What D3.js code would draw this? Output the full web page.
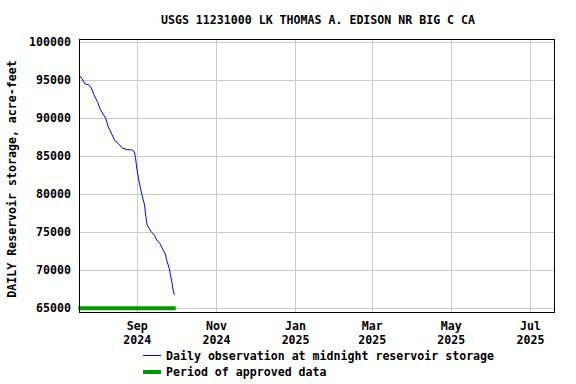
<!DOCTYPE html>
<html>
<head>
<meta charset="utf-8">
<script src="https://cdn.jsdelivr.net/npm/d3@7"></script>
<style>
  body { margin: 0; background: #fff; }
  svg text { font-family: 'DejaVu Sans Mono', monospace; font-weight: bold; font-size: 11.6px; fill: #000; }
</style>
</head>
<body>
<figure style="margin:0"></figure>
<script>
const width = 576
const height = 384

// daily storage readings, acre-feet
const obsDates = [
  '2024-07-19', '2024-07-21', '2024-07-23', '2024-07-26', '2024-07-28', '2024-07-30',
  '2024-08-02', '2024-08-04', '2024-08-08', '2024-08-10', '2024-08-13', '2024-08-15',
  '2024-08-18', '2024-08-21', '2024-08-25', '2024-08-28', '2024-08-30', '2024-08-31',
  '2024-09-01', '2024-09-03', '2024-09-05', '2024-09-07', '2024-09-08', '2024-09-09',
  '2024-09-12', '2024-09-15', '2024-09-16', '2024-09-19', '2024-09-21', '2024-09-23',
  '2024-09-24', '2024-09-26', '2024-09-27', '2024-09-28', '2024-09-29', '2024-09-30'
]
const storage = [
  95570, 95130, 94510, 94380, 93950, 93070,
  92050, 91090, 90000, 88890, 87800, 87050,
  86620, 86050, 85830, 85830, 85600, 84850,
  83420, 81450, 79900, 78590, 77050, 75960,
  75080, 74510, 74080, 73460, 72760, 72140,
  71350, 70260, 69380, 68500, 67400, 66750
]
const approved = ['2024-07-18', '2024-10-01']

const yTicks = [65000, 70000, 75000, 80000, 85000, 90000, 95000, 100000]
const xTicks = ['2024-09-01', '2024-11-01', '2025-01-01', '2025-03-01', '2025-05-01', '2025-07-01']
const xTickLabels = [['Sep', '2024'], ['Nov', '2024'], ['Jan', '2025'], ['Mar', '2025'], ['May', '2025'], ['Jul', '2025']]

const title = 'USGS 11231000 LK THOMAS A. EDISON NR BIG C CA'
const yLabel = 'DAILY Reservoir storage, acre-feet'
const legendItems = ['Daily observation at midnight reservoir storage', 'Period of approved data']

const parse = d3.utcParse('%Y-%m-%d')
const plotLeft = 79
const plotRight = 554
const plotTop = 39
const plotBottom = 312

const x = d3.scaleUtc()
  .domain([new Date(Date.UTC(2024, 6, 18, 12)), new Date(Date.UTC(2025, 6, 19, 12))])
  .range([plotLeft, plotRight])
const y = d3.scaleLinear()
  .domain([64500, 100400])
  .range([plotBottom, plotTop])

const svg = d3.select('figure').append('svg')
  .attr('width', width)
  .attr('height', height)

// grid
svg.append('g')
  .selectAll('line')
  .data(yTicks)
  .join('line')
  .attr('x1', plotLeft).attr('x2', plotRight)
  .attr('y1', d => Math.round(y(d)) + 0.5)
  .attr('y2', d => Math.round(y(d)) + 0.5)
  .attr('stroke', '#cccccc')

svg.append('g')
  .selectAll('line')
  .data(xTicks)
  .join('line')
  .attr('x1', d => Math.round(x(parse(d))) + 0.5)
  .attr('x2', d => Math.round(x(parse(d))) + 0.5)
  .attr('y1', plotTop).attr('y2', plotBottom)
  .attr('stroke', '#cccccc')

// approved period bar
svg.append('line')
  .attr('x1', x(parse(approved[0])))
  .attr('x2', x(parse(approved[1])))
  .attr('y1', y(65000))
  .attr('y2', y(65000))
  .attr('stroke', '#009900')
  .attr('stroke-width', 4)

// observations
const series = obsDates.map((d, i) => ({ date: parse(d), value: storage[i] }))
svg.append('path')
  .datum(series)
  .attr('fill', 'none')
  .attr('stroke', '#0000ff')
  .attr('stroke-width', 1)
  .attr('d', d3.line().x(d => x(d.date)).y(d => y(d.value)))

// frame
svg.append('rect')
  .attr('x', plotLeft + 0.5).attr('y', plotTop + 0.5)
  .attr('width', plotRight - plotLeft).attr('height', plotBottom - plotTop)
  .attr('fill', 'none')
  .attr('stroke', '#000')

// y tick labels
svg.append('g')
  .selectAll('text')
  .data(yTicks)
  .join('text')
  .attr('x', 71)
  .attr('y', d => y(d) + 4)
  .attr('text-anchor', 'end')
  .text(d => d)

// x tick labels
const xl = svg.append('g')
  .selectAll('text')
  .data(xTicks)
  .join('text')
  .attr('text-anchor', 'middle')
  .attr('x', d => x(parse(d)) + 0.5)
xl.append('tspan').attr('y', 330).text((d, i) => xTickLabels[i][0])
xl.append('tspan').attr('y', 344).attr('x', d => x(parse(d)) + 0.5).text((d, i) => xTickLabels[i][1])

// title and axis title
svg.append('text')
  .attr('x', 318).attr('y', 24)
  .attr('text-anchor', 'middle')
  .text(title)

svg.append('text')
  .attr('transform', 'translate(16,179) rotate(-90)')
  .attr('text-anchor', 'middle')
  .text(yLabel)

// legend
const legend = svg.append('g')
legend.append('line')
  .attr('x1', 143).attr('x2', 161).attr('y1', 355.5).attr('y2', 355.5)
  .attr('stroke', '#0000ff')
legend.append('line')
  .attr('x1', 143).attr('x2', 161).attr('y1', 372).attr('y2', 372)
  .attr('stroke', '#009900').attr('stroke-width', 4)
legend.selectAll('text')
  .data(legendItems)
  .join('text')
  .attr('x', 166)
  .attr('y', (d, i) => 360 + i * 16)
  .text(d => d)
</script>
</body>
</html>
